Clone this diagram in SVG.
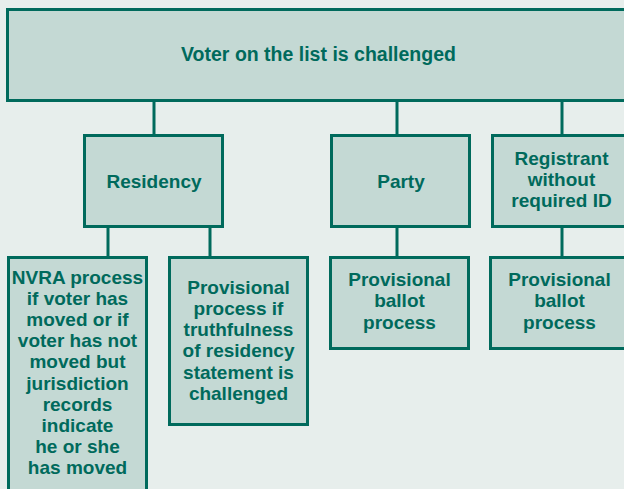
<svg xmlns="http://www.w3.org/2000/svg" width="624" height="489" viewBox="0 0 624 489">
<style>
.box{fill:#c4d9d4;stroke:#006a5c;stroke-width:3}
.ln{stroke:#006a5c;stroke-width:3;fill:none}
text{font-family:"Liberation Sans",Arial,sans-serif;font-weight:bold;font-size:19px;fill:#006a5c;text-anchor:middle}
</style>
<rect width="624" height="489" fill="#e7eeec"/>
<g id="connectors">
<line class="ln" x1="154" y1="101" x2="154" y2="135"/>
<line class="ln" x1="397" y1="101" x2="397" y2="135"/>
<line class="ln" x1="562" y1="101" x2="562" y2="135"/>
<line class="ln" x1="108" y1="227" x2="108" y2="257"/>
<line class="ln" x1="210" y1="227" x2="210" y2="257"/>
<line class="ln" x1="397" y1="227" x2="397" y2="257"/>
<line class="ln" x1="562" y1="227" x2="562" y2="257"/>
</g>
<g id="top">
<rect class="box" x="7.5" y="9.5" width="630" height="91"/>
<text x="318.5" y="61" style="font-size:19.5px">Voter on the list is challenged</text>
</g>
<g id="residency">
<rect class="box" x="84.5" y="135.5" width="138" height="91"/>
<text x="154" y="187.5">Residency</text>
</g>
<g id="party">
<rect class="box" x="331.5" y="135.5" width="138" height="91"/>
<text x="401" y="187.5">Party</text>
</g>
<g id="registrant">
<rect class="box" x="492.5" y="135.5" width="138" height="91"/>
<text x="561.5" y="165">Registrant</text>
<text x="561.5" y="186">without</text>
<text x="561.5" y="207">required ID</text>
</g>
<g id="nvra">
<rect class="box" x="8.5" y="257.5" width="138" height="240"/>
<text x="77.5" y="283.5">NVRA process</text>
<text x="77.5" y="304.7">if voter has</text>
<text x="77.5" y="325.9">moved or if</text>
<text x="77.5" y="347.1">voter has not</text>
<text x="77.5" y="368.3">moved but</text>
<text x="77.5" y="389.5">jurisdiction</text>
<text x="77.5" y="410.7">records</text>
<text x="77.5" y="431.9">indicate</text>
<text x="77.5" y="453.1">he or she</text>
<text x="77.5" y="474.3">has moved</text>
</g>
<g id="provres">
<rect class="box" x="169.5" y="257.5" width="138" height="167"/>
<text x="238.5" y="293.5">Provisional</text>
<text x="238.5" y="314.8">process if</text>
<text x="238.5" y="336">truthfulness</text>
<text x="238.5" y="357.3">of residency</text>
<text x="238.5" y="378.5">statement is</text>
<text x="238.5" y="399.8">challenged</text>
</g>
<g id="provparty">
<rect class="box" x="330.5" y="257.5" width="138" height="91"/>
<text x="399.5" y="285.5">Provisional</text>
<text x="399.5" y="307">ballot</text>
<text x="399.5" y="328.5">process</text>
</g>
<g id="provreg">
<rect class="box" x="490.5" y="257.5" width="138" height="91"/>
<text x="559.5" y="285.5">Provisional</text>
<text x="559.5" y="307">ballot</text>
<text x="559.5" y="328.5">process</text>
</g>
</svg>
